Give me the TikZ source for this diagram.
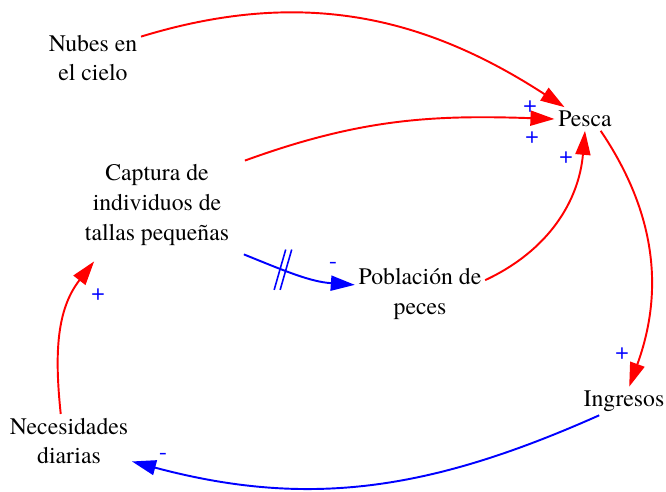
\documentclass[tikz,border=0pt]{standalone}
\usepackage{fontspec}
\setmainfont{TeX Gyre Termes}
\usetikzlibrary{arrows.meta}
\tikzset{
  var/.style={align=center, inner sep=2pt, font=\fontsize{13.5}{17}\selectfont},
  poslink/.style={red, line width=1.1pt, -{Triangle[length=0.48cm,width=0.3cm]}},
  neglink/.style={blue, line width=1.1pt, -{Triangle[length=0.48cm,width=0.3cm]}},
  sign/.style={blue, inner sep=0pt, font=\fontsize{13.5}{17}\selectfont},
}
\begin{document}
\begin{tikzpicture}[x=0.02cm,y=0.02cm]
            \useasboundingbox (0,0) rectangle (666,-492);
            \node[var] (nubes) at (93,-58) {Nubes en\\el cielo};
            \node[var] (pesca) at (585,-119) {Pesca};
            \node[var] (captura) at (157,-205) {Captura de\\individuos de\\tallas pequeñas};
            \node[var] (poblacion) at (420,-294) {Población de\\peces};
            \node[var] (ingresos) at (624,-401) {Ingresos};
            \node[var] (necesidades) at (69,-441) {Necesidades\\diarias};
            \draw[poslink] (nubes.24) to[out=17,in=147] (pesca.150);
            \draw[poslink] ([shift={(12,0)}]captura.north east) to[out=20,in=178] (pesca.west);
            \draw[poslink] (poblacion.12) to[out=25,in=-95] (pesca.south);
            \draw[poslink] (pesca.-37) to[out=-56,in=70] (ingresos.70);
            \draw[neglink] (ingresos.-150) to[out=-156,in=-15] (necesidades.-18);
            \draw[poslink] (necesidades.107) to[out=96,in=-128] ([shift={(13,-12)}]captura.south west);
            \draw[neglink] ([shift={(11,-5)}]captura.south east) to[out=-22,in=176] coordinate[pos=0.35] (delay) (poblacion.172);
            \foreach \s in {-3,3}
                \draw[blue, line width=0.9pt] ([shift={(\s,0)}]delay) ++(74:21) -- ++(254:42);
            \node[sign] (s1) at (530,-107) {+};
            \node[sign] (s2) at (532,-138) {+};
            \node[sign] (s3) at (566,-158) {+};
            \node[sign] (s4) at (622,-354) {+};
            \node[sign] (s5) at (98,-295) {+};
            \node[sign] (s6) at (333,-265) {-};
            \node[sign] (s7) at (163,-456) {-};
        \end{tikzpicture}
\end{document}
